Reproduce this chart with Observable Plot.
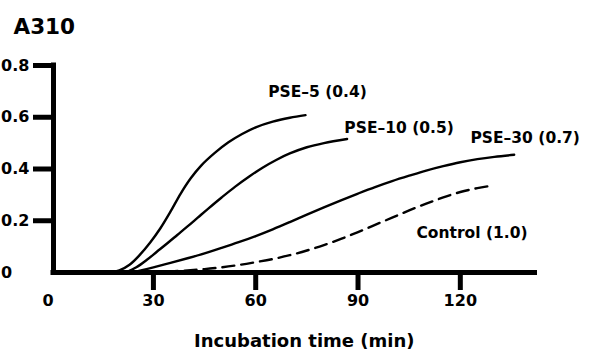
<!DOCTYPE html>
<html>
<head>
<meta charset="utf-8">
<script src="https://cdn.jsdelivr.net/npm/d3@7"></script>
<script src="https://cdn.jsdelivr.net/npm/@observablehq/plot@0.6"></script>
<style>
  html, body { margin: 0; padding: 0; background: #fff; }
  #chart svg { display: block; }
</style>
</head>
<body>
<div id="chart"></div>
<script>
// Growth curves (A310) for cultures with PSE extract vs. control
const seriesNames = ["PSE–5 (0.4)", "PSE–10 (0.5)", "PSE–30 (0.7)", "Control (1.0)"];

const pse5Time = [17.5, 20, 23, 26, 29, 32, 35, 38, 41, 44, 48, 52, 56, 60, 65, 70, 74.6];
const pse5Abs  = [0, 0.008, 0.03, 0.068, 0.115, 0.17, 0.235, 0.305, 0.365, 0.413, 0.462, 0.503, 0.535, 0.561, 0.583, 0.598, 0.608];

const pse10Time = [22, 25, 28, 31, 34, 37, 40, 43, 46, 50, 54, 58, 62, 66, 70, 75, 80, 86.8];
const pse10Abs  = [0, 0.02, 0.048, 0.08, 0.112, 0.145, 0.178, 0.212, 0.246, 0.29, 0.332, 0.37, 0.405, 0.435, 0.46, 0.484, 0.5, 0.516];

const pse30Time = [24, 27, 30, 35, 40, 45, 50, 55, 60, 65, 70, 75, 80, 85, 90, 95, 100, 105, 110, 115, 120, 125, 130, 135.8];
const pse30Abs  = [0, 0.01, 0.02, 0.037, 0.055, 0.074, 0.095, 0.117, 0.141, 0.167, 0.195, 0.224, 0.252, 0.279, 0.305, 0.33, 0.353, 0.374, 0.394, 0.411, 0.426, 0.438, 0.447, 0.455];

const controlTime = [28, 35, 40, 45, 50, 55, 60, 65, 70, 75, 80, 85, 90, 95, 100, 105, 110, 115, 120, 125, 129.3];
const controlAbs  = [0, 0.004, 0.008, 0.013, 0.02, 0.029, 0.04, 0.052, 0.067, 0.085, 0.106, 0.13, 0.156, 0.184, 0.212, 0.24, 0.266, 0.29, 0.311, 0.326, 0.336];

const xTickValues = [0, 30, 60, 90, 120];
const xTickLabels = ["0", "30", "60", "90", "120"];
const yTickValues = [0, 0.2, 0.4, 0.6, 0.8];
const yTickLabels = ["0", "0.2", "0.4", "0.6", "0.8"];

const chartTitle = "A310";
const xTitle = "Incubation time (min)";

// Tidy table built from the arrays above
function toRows(name, times, values) {
  return times.map((t, i) => ({series: name, time: t, absorbance: values[i]}));
}
const rowsPse5 = toRows(seriesNames[0], pse5Time, pse5Abs);
const rowsPse10 = toRows(seriesNames[1], pse10Time, pse10Abs);
const rowsPse30 = toRows(seriesNames[2], pse30Time, pse30Abs);
const rowsControl = toRows(seriesNames[3], controlTime, controlAbs);
const solidRows = [...rowsPse5, ...rowsPse10, ...rowsPse30];

const xStart = 0.7;          // where the vertical axis line sits
const axisStroke = 5;
const lineStroke = 2.4;
const font = "'DejaVu Sans', 'Liberation Sans', sans-serif";
const labelStyle = {fontWeight: "bold", fill: "#000"};

function endLabel(rows, dx, dy) {
  return Plot.text(rows, Plot.selectLast({
    x: "time", y: "absorbance", text: "series",
    dx, dy, fontSize: 15.5, ...labelStyle
  }));
}

const chart = Plot.plot({
  width: 596,
  height: 356,
  marginLeft: 53,
  marginRight: 61.5,
  marginTop: 65,
  marginBottom: 84,
  x: {domain: [xStart, 141.9]},
  y: {domain: [0, 0.8]},
  style: {fontFamily: font, fontWeight: "bold", color: "#000", background: "#fff"},
  marks: [
    // growth curves
    Plot.line(solidRows, {
      x: "time", y: "absorbance", z: "series",
      curve: "catmull-rom", stroke: "#000", strokeWidth: lineStroke
    }),
    Plot.line(rowsControl, {
      x: "time", y: "absorbance",
      curve: "catmull-rom", stroke: "#000", strokeWidth: lineStroke,
      strokeDasharray: "12,7"
    }),

    // curve labels
    endLabel(rowsPse5, 12, -23),
    endLabel(rowsPse10, 52, -11),
    endLabel(rowsPse30, 11, -17),
    endLabel(rowsControl, -20, 47),

    // axis lines
    Plot.ruleY([0], {stroke: "#000", strokeWidth: axisStroke, strokeLinecap: "square"}),
    Plot.ruleX([xStart], {y1: 0, y2: 0.8, stroke: "#000", strokeWidth: axisStroke, strokeLinecap: "square"}),

    // tick marks (labels drawn separately)
    Plot.axisX({ticks: xTickValues.filter(d => d > 0), tickSize: 18, strokeWidth: axisStroke, fill: "none", anchor: "bottom"}),
    Plot.axisY({ticks: yTickValues.filter(d => d > 0), tickSize: 20, strokeWidth: axisStroke, fill: "none", anchor: "left"}),

    // tick labels
    Plot.text(xTickValues.slice(0, 1), {
      x: d => d, text: () => xTickLabels[0],
      frameAnchor: "bottom", dx: -3, dy: 33, fontSize: 16, ...labelStyle
    }),
    Plot.text(xTickValues.slice(1), {
      x: d => d, text: (d, i) => xTickLabels[i + 1],
      frameAnchor: "bottom", dy: 33, fontSize: 16, ...labelStyle
    }),
    Plot.text(yTickValues, {
      y: d => d, text: (d, i) => yTickLabels[i],
      frameAnchor: "left", textAnchor: "start", dx: -52.5, fontSize: 16, ...labelStyle
    }),

    // titles
    Plot.text([chartTitle], {
      frameAnchor: "top-left", textAnchor: "start", dx: -40, dy: -47,
      fontSize: 21.5, ...labelStyle
    }),
    Plot.text([xTitle], {
      frameAnchor: "bottom", dx: 10, dy: 74,
      fontSize: 18, ...labelStyle
    })
  ]
});

document.getElementById("chart").append(chart);
</script>
</body>
</html>
